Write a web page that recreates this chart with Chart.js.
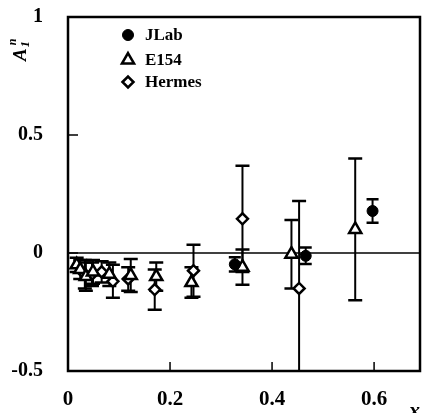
<!DOCTYPE html>
<html>
<head>
<meta charset="utf-8">
<script src="https://cdn.jsdelivr.net/npm/chart.js@4"></script>
<style>
  html, body { margin: 0; padding: 0; background: #fff; }
  #wrap { width: 423px; height: 413px; }
</style>
</head>
<body>
<div id="wrap"><canvas id="a1n"></canvas></div>
<script>
// values
const jlabX = [0.327, 0.466, 0.597];
const jlabY = [-0.048, -0.012, 0.178];
const jlabErr = [0.03, 0.035, 0.05];

const e154X = [0.017, 0.024, 0.035, 0.049, 0.081, 0.123, 0.173, 0.242, 0.342, 0.438, 0.563];
const e154Y = [-0.05, -0.07, -0.10, -0.08, -0.09, -0.095, -0.10, -0.125, -0.06, -0.005, 0.10];
const e154Err = [0.03, 0.04, 0.06, 0.05, 0.05, 0.07, 0.06, 0.065, 0.075, 0.145, 0.30];

const hermesX = [0.033, 0.047, 0.066, 0.088, 0.118, 0.170, 0.246, 0.342, 0.453];
const hermesY = [-0.09, -0.09, -0.08, -0.12, -0.11, -0.155, -0.075, 0.145, -0.15];
const hermesErr = [0.06, 0.05, 0.045, 0.07, 0.05, 0.085, 0.11, 0.225, 0.37];

const xTicks = [0, 0.2, 0.4, 0.6];
const yTicks = [-0.5, 0, 0.5, 1];

const serif = '"Liberation Serif", "DejaVu Serif", serif';

function pts(xs, ys) {
    return xs.map((x, i) => ({ x: x, y: ys[i] }));
}

// frame, zero line, inward ticks, error bars, legend and axis titles
const decor = {
    id: 'decor',
    beforeDatasetsDraw(chart) {
        const { ctx, chartArea: a, scales } = chart;
        const xs = scales.x, ys = scales.y;
        ctx.save();
        ctx.strokeStyle = '#000';

        // zero line
        ctx.lineWidth = 1.5;
        const y0 = ys.getPixelForValue(0);
        ctx.beginPath();
        ctx.moveTo(a.left, y0);
        ctx.lineTo(a.right, y0);
        ctx.stroke();

        // error bars, clipped to the plot box
        ctx.save();
        ctx.beginPath();
        ctx.rect(a.left, a.top, a.right - a.left, a.bottom - a.top);
        ctx.clip();
        chart.data.datasets.forEach(ds => {
            ds.data.forEach((p, i) => {
                const e = ds.errors[i];
                const px = xs.getPixelForValue(p.x);
                const top = ys.getPixelForValue(p.y + e);
                const bot = ys.getPixelForValue(p.y - e);
                const half = ds.capHalf;
                ctx.lineWidth = 2;
                ctx.beginPath();
                ctx.moveTo(px, top);
                ctx.lineTo(px, bot);
                ctx.stroke();
                ctx.lineWidth = 2.5;
                ctx.beginPath();
                ctx.moveTo(px - half, top);
                ctx.lineTo(px + half, top);
                ctx.moveTo(px - half, bot);
                ctx.lineTo(px + half, bot);
                ctx.stroke();
            });
        });
        ctx.restore();
        ctx.restore();
    },
    afterDraw(chart) {
        const { ctx, chartArea: a, scales } = chart;
        const xs = scales.x, ys = scales.y;
        ctx.save();
        ctx.strokeStyle = '#000';
        ctx.fillStyle = '#000';

        // box
        ctx.lineWidth = 2.5;
        ctx.strokeRect(a.left, a.top, a.right - a.left, a.bottom - a.top);

        // inward ticks
        ctx.lineWidth = 1.5;
        ctx.beginPath();
        xTicks.forEach(v => {
            if (v === 0) return;
            const px = xs.getPixelForValue(v);
            ctx.moveTo(px, a.bottom);
            ctx.lineTo(px, a.bottom - 9);
        });
        yTicks.forEach(v => {
            if (v === yTicks[0] || v === yTicks[yTicks.length - 1]) return;
            const py = ys.getPixelForValue(v);
            ctx.moveTo(a.left, py);
            ctx.lineTo(a.left + 10, py);
        });
        ctx.stroke();

        // legend
        const lx = 128, ly = [35, 60, 82];
        chart.data.datasets.forEach((ds, i) => {
            ctx.fillStyle = ds.backgroundColor;
            ctx.strokeStyle = ds.borderColor;
            ctx.lineWidth = ds.borderWidth;
            Chart.helpers.drawPoint(ctx, {
                pointStyle: ds.pointStyle,
                radius: ds.pointRadius,
                borderWidth: ds.borderWidth,
                rotation: 0
            }, lx, ly[i]);
            ctx.fillStyle = '#000';
            ctx.font = 'bold 17px ' + serif;
            ctx.textBaseline = 'middle';
            ctx.textAlign = 'left';
            ctx.fillText(ds.label, lx + 17, ly[i] + 1);
        });

        // axis titles
        ctx.fillStyle = '#000';
        ctx.font = 'italic bold 22px ' + serif;
        ctx.textBaseline = 'top';
        ctx.fillText('x', 409, 400);

        ctx.save();
        ctx.translate(26, 61);
        ctx.rotate(-Math.PI / 2);
        ctx.textBaseline = 'alphabetic';
        ctx.font = 'italic bold 19px ' + serif;
        ctx.fillText('A', 0, 0);
        const w = ctx.measureText('A').width;
        ctx.font = 'italic bold 12px ' + serif;
        ctx.fillText('1', w + 1, 3);
        ctx.fillText('n', w + 3, -10);
        ctx.restore();

        ctx.restore();
    }
};

new Chart(document.getElementById('a1n'), {
    type: 'scatter',
    data: {
        datasets: [
            {
                label: 'JLab',
                data: pts(jlabX, jlabY),
                errors: jlabErr,
                capHalf: 6,
                pointStyle: 'circle',
                pointRadius: 5.5,
                backgroundColor: '#000',
                borderColor: '#000',
                borderWidth: 1
            },
            {
                label: 'E154',
                data: pts(e154X, e154Y),
                errors: e154Err,
                capHalf: 7,
                pointStyle: 'triangle',
                pointRadius: 7,
                backgroundColor: '#fff',
                borderColor: '#000',
                borderWidth: 2.5
            },
            {
                label: 'Hermes',
                data: pts(hermesX, hermesY),
                errors: hermesErr,
                capHalf: 7,
                pointStyle: 'rectRot',
                pointRadius: 5.5,
                backgroundColor: '#fff',
                borderColor: '#000',
                borderWidth: 2.5
            }
        ]
    },
    options: {
        responsive: true,
        maintainAspectRatio: false,
        animation: false,
        layout: { autoPadding: false, padding: { left: 0, top: 17, right: 3, bottom: 0 } },
        plugins: {
            legend: { display: false },
            tooltip: { enabled: false }
        },
        scales: {
            x: {
                type: 'linear',
                min: 0,
                max: 0.69,
                grid: { display: false },
                border: { display: false },
                afterBuildTicks: s => { s.ticks = xTicks.map(v => ({ value: v })); },
                afterFit: s => { s.height = 42; s.paddingLeft = 0; s.paddingRight = 0; },
                ticks: {
                    color: '#000',
                    padding: 8,
                    maxRotation: 0,
                    autoSkip: false,
                    font: { family: serif, size: 21, weight: 'bold' },
                    callback: v => String(v)
                }
            },
            y: {
                type: 'linear',
                min: -0.5,
                max: 1,
                grid: { display: false },
                border: { display: false },
                afterBuildTicks: s => { s.ticks = yTicks.map(v => ({ value: v })); },
                afterFit: s => { s.width = 68; s.paddingTop = 0; s.paddingBottom = 0; },
                ticks: {
                    color: '#000',
                    padding: 17,
                    autoSkip: false,
                    font: { family: serif, size: 20, weight: 'bold' },
                    callback: v => String(v)
                }
            }
        }
    },
    plugins: [decor]
});
</script>
</body>
</html>
